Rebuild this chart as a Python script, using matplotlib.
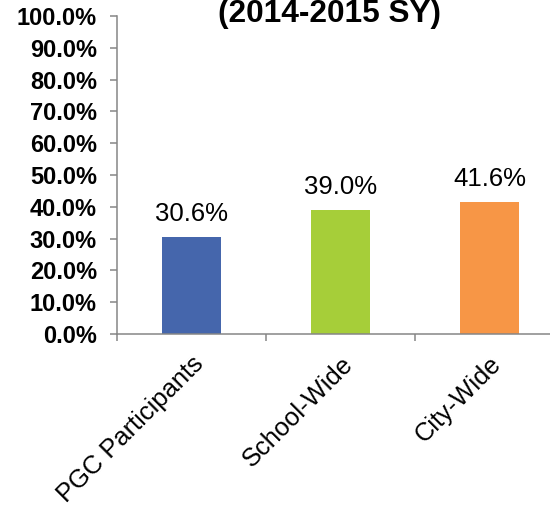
import matplotlib.pyplot as plt
import numpy as np

plt.rcParams['font.family'] = ['Liberation Sans', 'DejaVu Sans']

categories = ['PGC Participants', 'School-Wide', 'City-Wide']
values = [30.6, 39.0, 41.6]
colors = ['#4566AC', '#A6CE39', '#F79646']
yticks = np.arange(0, 101, 10)

fig = plt.figure(figsize=(5.5, 5.09), dpi=100)
ax = fig.add_axes([117 / 550, 1 - 334 / 509, 447 / 550, 318 / 509])

x = np.arange(len(categories))
bars = ax.bar(x, values, width=0.4, color=colors)

for xi, v in zip(x, values):
    ax.annotate(f'{v:.1f}%', (xi, v), xytext=(0, 11.5), textcoords='offset points',
                ha='center', va='baseline', fontsize=18.5)

ax.set_xlim(-0.5, 2.5)
ax.set_ylim(0, 100)
ax.set_yticks(yticks)
ax.set_yticklabels([f'{t:.1f}%' for t in yticks], fontsize=17, fontweight='bold')

ax.set_xticks(x)
ax.set_xticklabels(categories, rotation=45, ha='right', rotation_mode='anchor', fontsize=18.4)
ax.tick_params(axis='x', length=0, pad=13)
ax.set_xticks([-0.5, 0.5, 1.5], minor=True)
ax.tick_params(axis='x', which='minor', length=5, width=1.1, color='#868686')
ax.tick_params(axis='y', length=5, width=1.1, color='#868686', pad=9.5)

for side in ['top', 'right']:
    ax.spines[side].set_visible(False)
for side in ['left', 'bottom']:
    ax.spines[side].set_color('#868686')
    ax.spines[side].set_linewidth(1.1)

fig.text(330 / 550, 1 - 22 / 509, '(2014-2015 SY)', ha='center', va='baseline',
         fontsize=22.8, fontweight='bold')

fig.savefig('out.png', dpi=100)
